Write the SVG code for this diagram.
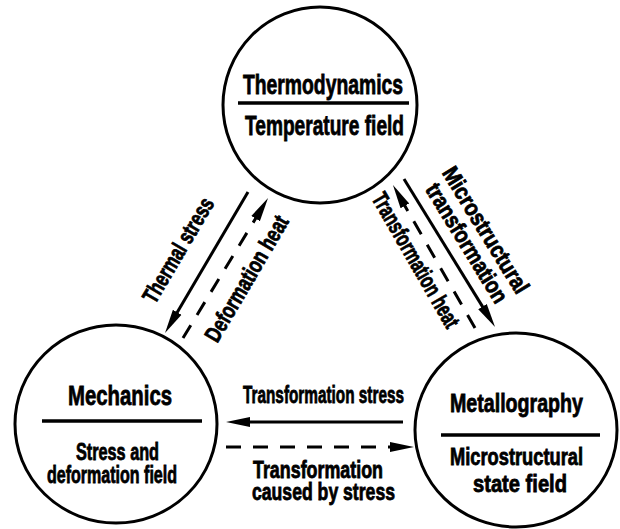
<svg xmlns="http://www.w3.org/2000/svg" width="620" height="529" viewBox="0 0 620 529">
<style>
.c{fill:#fff;stroke:#000;stroke-width:3}
.sep{stroke:#000;stroke-width:3.5}
.ln{stroke:#000;stroke-width:3;fill:none}
.ds{stroke-dasharray:15 12}
text{font-family:"Liberation Sans",Arial,sans-serif;font-weight:bold;fill:#000;stroke:#000;stroke-width:0.8;text-anchor:middle}
.t{font-size:28px}
.s{font-size:26px}
.l{font-size:23px}
</style>
<defs>
<marker id="ah" markerUnits="userSpaceOnUse" markerWidth="26" markerHeight="12" viewBox="0 -6 26 12" refX="1" refY="0" orient="auto"><path d="M0,-5 L24,0 L0,5 z" fill="#000"/></marker>
</defs>
<rect width="620" height="529" fill="#fff"/>
<g id="thermodynamics">
<ellipse class="c" cx="320" cy="105" rx="97" ry="98"/>
<text class="t" x="323" y="94" textLength="160" lengthAdjust="spacingAndGlyphs">Thermodynamics</text>
<line class="sep" x1="238" y1="103" x2="409" y2="103"/>
<text class="t" x="324.5" y="135" textLength="159" lengthAdjust="spacingAndGlyphs">Temperature field</text>
</g>
<g id="mechanics">
<ellipse class="c" cx="116" cy="424" rx="101" ry="99"/>
<text class="t" x="120" y="405" font-size="30" textLength="104" lengthAdjust="spacingAndGlyphs">Mechanics</text>
<line class="sep" x1="42" y1="421" x2="202" y2="421"/>
<text class="l" x="117.5" y="460" textLength="83" lengthAdjust="spacingAndGlyphs">Stress and</text>
<text class="l" x="112" y="483" textLength="130" lengthAdjust="spacingAndGlyphs">deformation field</text>
</g>
<g id="metallography">
<ellipse class="c" cx="516" cy="430" rx="101" ry="97"/>
<text class="s" x="516.5" y="412" textLength="133" lengthAdjust="spacingAndGlyphs">Metallography</text>
<line class="sep" x1="441" y1="435" x2="600" y2="435"/>
<text class="l" x="516.5" y="465" textLength="133" lengthAdjust="spacingAndGlyphs">Microstructural</text>
<text class="l" x="520" y="492" textLength="94" lengthAdjust="spacingAndGlyphs">state field</text>
</g>
<g id="connectors">
<line class="ln" x1="248" y1="192" x2="176.7" y2="313.2" marker-end="url(#ah)"/>
<line class="ln ds" x1="183" y1="338" x2="256.1" y2="217.7" marker-end="url(#ah)"/>
<line class="ln" x1="404" y1="179" x2="483" y2="307.4" marker-end="url(#ah)"/>
<line class="ln ds" x1="475" y1="328" x2="404.4" y2="205" marker-end="url(#ah)"/>
<line class="ln" x1="403" y1="422" x2="249" y2="422" marker-end="url(#ah)"/>
<line class="ln ds" x1="226" y1="447" x2="391" y2="447" marker-end="url(#ah)"/>
</g>
<g id="labels">
<text class="l" transform="translate(178,250) rotate(-59.5)" x="0" y="8" textLength="118" lengthAdjust="spacingAndGlyphs">Thermal stress</text>
<text class="l" transform="translate(246.5,278.5) rotate(-59.5)" x="0" y="8" textLength="142" lengthAdjust="spacingAndGlyphs">Deformation heat</text>
<text class="l" transform="translate(486,230) rotate(58.5)" x="0" y="8" textLength="144" lengthAdjust="spacingAndGlyphs">Microstructural</text>
<text class="l" transform="translate(467,243) rotate(58.5)" x="0" y="8" textLength="136" lengthAdjust="spacingAndGlyphs">transformation</text>
<text class="l" transform="translate(416,260) rotate(60)" x="0" y="8" textLength="152" lengthAdjust="spacingAndGlyphs">Transformation heat</text>
<text class="l" x="323.5" y="403" textLength="161" lengthAdjust="spacingAndGlyphs">Transformation stress</text>
<text class="l" x="318" y="478" textLength="130" lengthAdjust="spacingAndGlyphs">Transformation</text>
<text class="l" x="323.5" y="500" textLength="143" lengthAdjust="spacingAndGlyphs">caused by stress</text>
</g>
</svg>
